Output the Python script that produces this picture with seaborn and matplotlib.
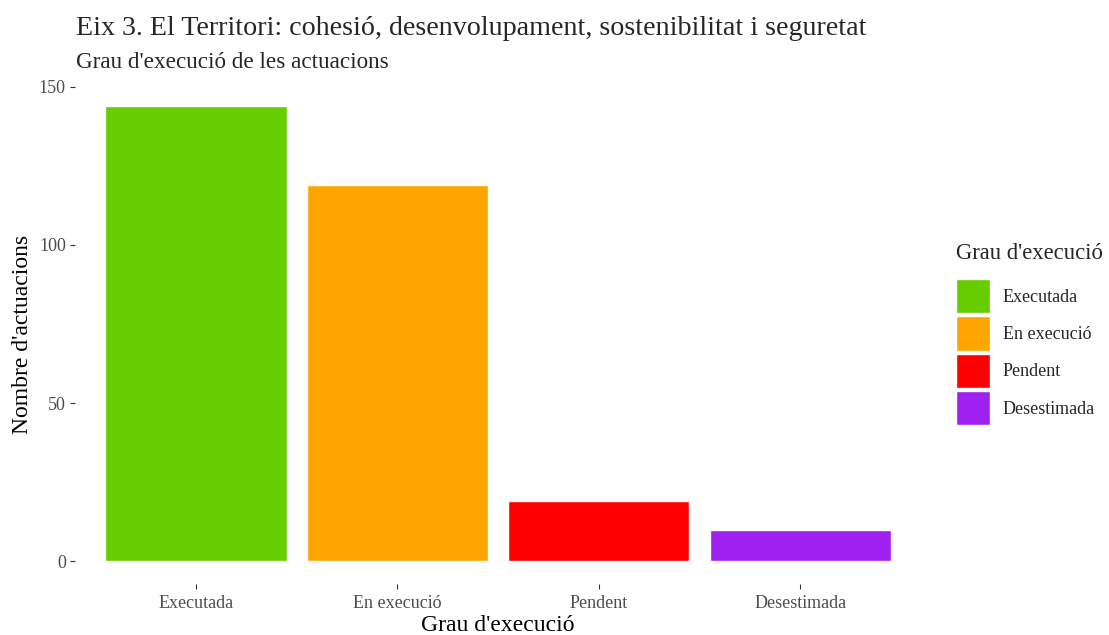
import pandas as pd
import matplotlib.pyplot as plt
import seaborn as sns

# data
categories = ["Executada", "En execució", "Pendent", "Desestimada"]
counts = [144, 119, 19, 10]
colors = ["#66CD00", "#FFA500", "#FF0000", "#A020F0"]

df = pd.DataFrame({"Grau d'execució": categories, "Nombre": counts})

sns.set_theme(style="white")
plt.rcParams['font.family'] = ['Liberation Serif', 'DejaVu Serif']

fig = plt.figure(figsize=(11.09, 6.35), dpi=100)
ax = fig.add_axes([0.0676, 0.0803, 0.763, 0.787])

sns.barplot(data=df, x="Grau d'execució", y="Nombre", hue="Grau d'execució",
            palette=colors, order=categories, hue_order=categories,
            width=0.9, dodge=False, saturation=1, legend=True, ax=ax)

ax.set_xlim(-0.6, 3.6)
ax.set_ylim(-7.2, 150.8)
ax.set_yticks([0, 50, 100, 150])
for s in ax.spines.values():
    s.set_visible(False)
ax.tick_params(axis='both', which='both', length=3.6, width=0.8, color='#333333',
               labelcolor='#4d4d4d', labelsize=13, bottom=True, left=True)
ax.tick_params(axis='x', pad=4)
ax.tick_params(axis='y', pad=3)
ax.set_xlabel("Grau d'execució", fontsize=17, color='black', labelpad=2.5)
ax.set_ylabel("Nombre d'actuacions", fontsize=17, color='black', labelpad=4)

fig.text(76 / 1109, 1 - 35 / 635, "Eix 3. El Territori: cohesió, desenvolupament, sostenibilitat i seguretat",
         fontsize=20.2, va='baseline', ha='left')
fig.text(76 / 1109, 1 - 68 / 635, "Grau d'execució de les actuacions",
         fontsize=16.7, va='baseline', ha='left')

# legend on the right, like ggplot's default guide
sns.move_legend(ax, loc='center left', bbox_to_anchor=(1.0, 0.5),
                title="Grau d'execució", frameon=False, fontsize=13, title_fontsize=16.3,
                handlelength=1.88, handleheight=2.53, labelspacing=0.18,
                handletextpad=0.7, borderaxespad=0, borderpad=0)
leg = ax.get_legend()
leg.set_bbox_to_anchor((956 / 1109, 1 - 334 / 635), transform=fig.transFigure)
leg._legend_box.align = "left"
leg._legend_box.sep = 11
for h in leg.legend_handles:
    h.set_edgecolor('white')
    h.set_linewidth(1)

fig.savefig("out.png", dpi=100)
